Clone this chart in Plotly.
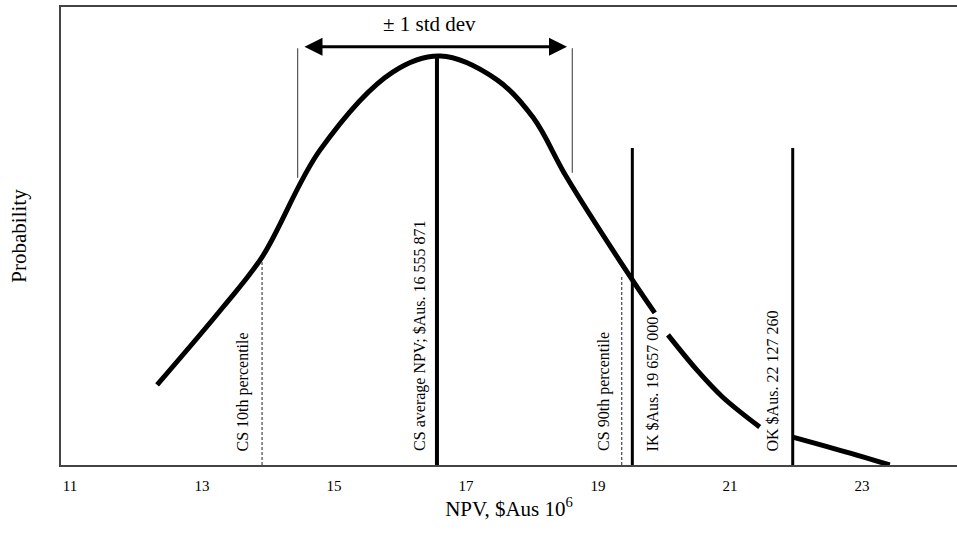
import plotly.graph_objects as go

# Distribution curve (NPV in $Aus million, relative probability 0-100)
curve_x = [12.32, 13.32, 13.91, 14.79, 15.89, 16.61,
           17.47, 18.02, 18.53, 19.52, 19.86,
           None,
           20.06, 20.50, 20.89, 21.45,
           None,
           21.95, 22.82, 23.42]
curve_y = [17.5, 34.5, 45.4, 68.8, 85.8, 89.3,
           84.1, 75.8, 62.7, 40.4, 33.2,
           None,
           28.4, 20.7, 14.8, 8.3,
           None,
           6.1, 2.6, 0.0]

# Reference lines
dashed_x = [13.91, 19.36]
dashed_top = [44.3, 41.5]
std_x = [14.45, 18.61]
std_bottom = [62.7, 63.8]
std_top = 91.0
mean_x = 16.56
mean_top = 89.5
key_x = [19.52, 21.95]
key_top = [69.2, 69.2]

# Labels
label_text = ["CS 10th percentile", "CS average NPV; $Aus. 16 555 871",
              "CS 90th percentile", "IK $Aus. 19 657 000", "OK $Aus. 22 127 260"]
label_x = [13.62, 16.30, 19.08, 19.83, 21.65]

arrow_x = [14.53, 18.53]
arrow_y = 91.3
tick_vals = [11, 13, 15, 17, 19, 21, 23]

fig = go.Figure()
fig.add_trace(go.Scatter(x=curve_x, y=curve_y, mode="lines",
                         line=dict(color="black", width=5, shape="spline",
                                   smoothing=1.0),
                         connectgaps=False, hoverinfo="skip"))
for xv, top in zip(dashed_x, dashed_top):
    fig.add_trace(go.Scatter(x=[xv, xv], y=[0, top], mode="lines",
                             line=dict(color="#222", width=1, dash="3px,2px")))
for xv, bot in zip(std_x, std_bottom):
    fig.add_trace(go.Scatter(x=[xv, xv], y=[bot, std_top], mode="lines",
                             line=dict(color="#333", width=1)))
fig.add_trace(go.Scatter(x=[mean_x, mean_x], y=[0, mean_top], mode="lines",
                         line=dict(color="black", width=4)))
for xv, top in zip(key_x, key_top):
    fig.add_trace(go.Scatter(x=[xv, xv], y=[0, top], mode="lines",
                             line=dict(color="black", width=3)))

serif = "Liberation Serif, Times New Roman, serif"
for t, xv in zip(label_text, label_x):
    fig.add_annotation(x=xv, y=2.6, text=t, textangle=-90, showarrow=False,
                       xanchor="center", yanchor="bottom",
                       font=dict(family=serif, size=16, color="black"))

fig.add_annotation(x=arrow_x[1], y=arrow_y, ax=arrow_x[0], ay=arrow_y,
                   xref="x", yref="y", axref="x", ayref="y", text="",
                   showarrow=True, arrowside="end+start", arrowhead=2,
                   arrowsize=1.2, arrowwidth=3, arrowcolor="black")
fig.add_annotation(x=sum(arrow_x) / 2 - 0.08, y=96.3, text="± 1 std dev",
                   showarrow=False, xanchor="center", yanchor="middle",
                   font=dict(family=serif, size=21, color="black"))

fig.update_layout(
    width=957, height=538,
    margin=dict(l=61, r=0, t=7, b=73),
    paper_bgcolor="white", plot_bgcolor="white",
    showlegend=False,
    font=dict(family=serif, color="black"),
    xaxis=dict(range=[10.864, 24.439], tickvals=tick_vals, ticks="",
               showgrid=False, zeroline=False, showline=True, mirror=True,
               linecolor="#444", linewidth=2, ticklabelstandoff=6,
               tickfont=dict(family=serif, size=15),
               title=dict(text="NPV, $Aus 10<sup>6</sup>",
                          font=dict(family=serif, size=21), standoff=6)),
    yaxis=dict(range=[0, 100], showticklabels=False, ticks="",
               showgrid=False, zeroline=False, showline=True, mirror=False,
               linecolor="#444", linewidth=2,
               title=dict(text="Probability", font=dict(family=serif, size=21),
                          standoff=27)),
)

fig.write_html("out.html")
